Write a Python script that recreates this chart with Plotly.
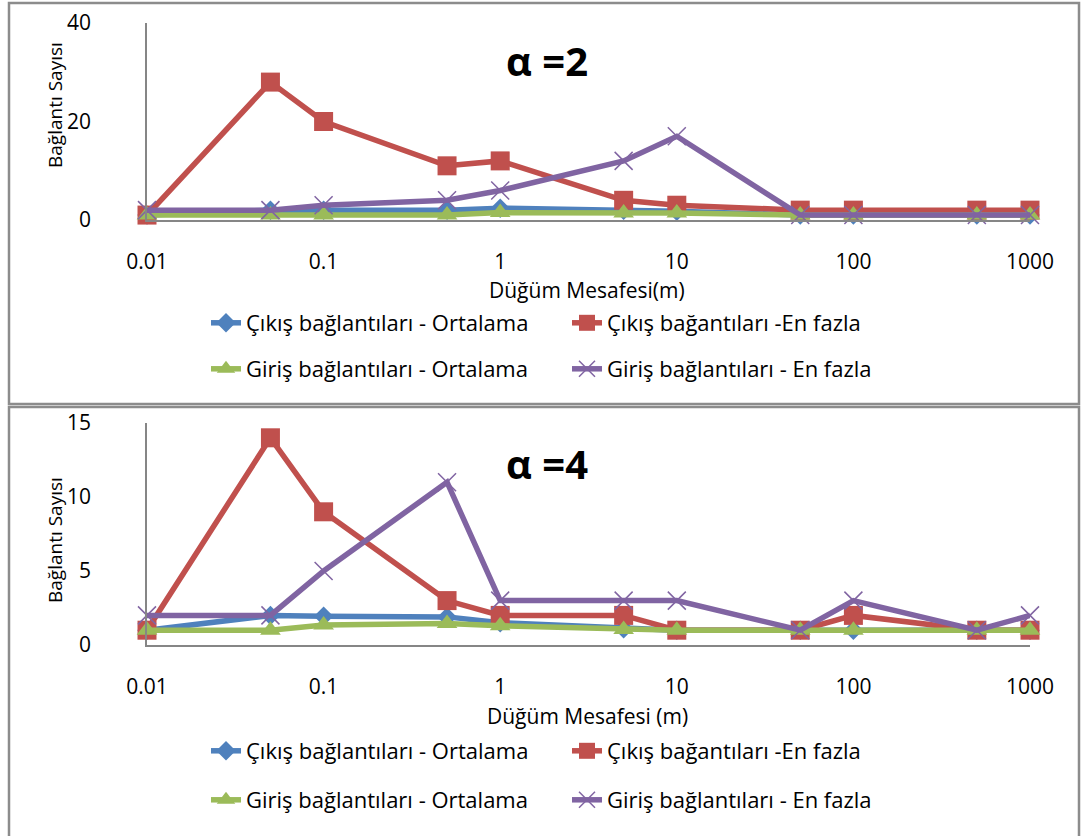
import plotly.graph_objects as go

# ---- data ----
distances = [0.01, 0.05, 0.1, 0.5, 1, 5, 10, 50, 100, 500, 1000]
tick_vals = [0.01, 0.1, 1, 10, 100, 1000]
tick_text = ["0.01", "0.1", "1", "10", "100", "1000"]

series_names = [
    "Çıkış bağlantıları - Ortalama",
    "Çıkış bağantıları -En fazla",
    "Giriş bağlantıları - Ortalama",
    "Giriş bağlantıları - En fazla",
]

# alpha = 2
cikis_ort_a2 = [1, 2, 2, 2, 2.4, 2, 1.8, 1, 1, 1, 1]
cikis_max_a2 = [1, 28, 20, 11, 12, 4, 3, 2, 2, 2, 2]
giris_ort_a2 = [1, 1, 1, 1, 1.5, 1.4, 1.4, 1, 1, 1, 1]
giris_max_a2 = [2, 2, 3, 4, 6, 12, 17, 1, 1, 1, 1]

# alpha = 4
cikis_ort_a4 = [1, 2, 1.95, 1.9, 1.5, 1.1, 1, 1, 1, 1, 1]
cikis_max_a4 = [1, 14, 9, 3, 2, 2, 1, 1, 2, 1, 1]
giris_ort_a4 = [1, 1, 1.35, 1.45, 1.3, 1.05, 1, 1, 1, 1, 1]
giris_max_a4 = [2, 2, 5, 11, 3, 3, 3, 1, 3, 1, 2]

y_ticks_a2 = [0, 20, 40]
y_ticks_a4 = [0, 5, 10, 15]

x_titles = ["Düğüm Mesafesi(m)", "Düğüm Mesafesi (m)"]
y_title = "Bağlantı Sayısı"
panel_titles = ["<b>α =2</b>", "<b>α =4</b>"]

# ---- style ----
W, H = 1086, 836
FONT = "Open Sans"
colors = ["#4F81BD", "#C0504D", "#9BBB59", "#8064A2"]
symbols = ["diamond", "square", "triangle-up", "x-thin"]
sizes = [15, 19, 18, 18]
AXIS_GRAY = "#868686"


def px_x(x):
    return x / W


def px_y(y):
    return 1 - y / H


fig = go.Figure()

panels = [
    ([cikis_ort_a2, cikis_max_a2, giris_ort_a2, giris_max_a2], "x", "y", ["legend", "legend", "legend2", "legend2"]),
    ([cikis_ort_a4, cikis_max_a4, giris_ort_a4, giris_max_a4], "x2", "y2", ["legend3", "legend3", "legend4", "legend4"]),
]

for data, xa, ya, legs in panels:
    for i, vals in enumerate(data):
        sym = symbols[i]
        if sym == "x-thin":
            marker = dict(symbol=sym, size=sizes[i], color=colors[i], line=dict(color=colors[i], width=1.5))
        else:
            marker = dict(symbol=sym, size=sizes[i], color=colors[i])
        fig.add_trace(go.Scatter(
            x=distances, y=vals, name=series_names[i], mode="lines+markers",
            line=dict(color=colors[i], width=5.5), marker=marker,
            xaxis=xa, yaxis=ya, legend=legs[i], cliponaxis=False,
        ))

xdom = [px_x(147), px_x(1030)]
common_x = dict(
    type="log", range=[-2, 3], tickvals=tick_vals, ticktext=tick_text,
    showline=True, linecolor=AXIS_GRAY, linewidth=1.5, showgrid=False, zeroline=False,
    ticks="outside", ticklen=22, tickcolor="rgba(0,0,0,0)", automargin=False,
    tickfont=dict(family=FONT, size=21, color="#000"),
)
common_y = dict(
    showline=True, linecolor=AXIS_GRAY, linewidth=1.5, showgrid=False, zeroline=False,
    ticks="outside", ticklen=50, tickcolor="rgba(0,0,0,0)", automargin=False,
    tickfont=dict(family=FONT, size=21, color="#000"),
)

fig.update_layout(
    width=W, height=H, margin=dict(l=0, r=0, t=0, b=0, autoexpand=False),
    paper_bgcolor="white", plot_bgcolor="white",
    font=dict(family=FONT, size=18, color="#000"),
    xaxis=dict(domain=xdom, anchor="y", **common_x),
    yaxis=dict(domain=[px_y(220), px_y(23)], anchor="x", range=[0, 40], tickvals=y_ticks_a2, **common_y),
    xaxis2=dict(domain=xdom, anchor="y2", **common_x),
    yaxis2=dict(domain=[px_y(645), px_y(423)], anchor="x2", range=[0, 15], tickvals=y_ticks_a4, **common_y),
)

leg_common = dict(orientation="h", xanchor="left", yanchor="middle", bgcolor="rgba(0,0,0,0)",
                  font=dict(family=FONT, size=22, color="#000"), entrywidth=316, entrywidthmode="pixels")
fig.update_layout(
    legend=dict(x=px_x(206), y=px_y(323), **leg_common),
    legend2=dict(x=px_x(206), y=px_y(369), **leg_common),
    legend3=dict(x=px_x(206), y=px_y(751), **leg_common),
    legend4=dict(x=px_x(206), y=px_y(800), **leg_common),
)

# axis titles (placed as text annotations)
for xt, yc in zip(x_titles, [290, 716]):
    fig.add_annotation(text=xt, x=px_x(587), y=px_y(yc), xref="paper", yref="paper",
                       xanchor="center", yanchor="middle", showarrow=False,
                       font=dict(family=FONT, size=21, color="#000"))
for yc in [105, 540]:
    fig.add_annotation(text=y_title, x=px_x(55), y=px_y(yc), xref="paper", yref="paper",
                       xanchor="center", yanchor="middle", textangle=-90, showarrow=False,
                       font=dict(family=FONT, size=19, color="#000"))

# panel titles
for t, yc in zip(panel_titles, [60, 463]):
    fig.add_annotation(text=t, x=px_x(547), y=px_y(yc), xref="paper", yref="paper",
                       xanchor="center", yanchor="middle",
                       showarrow=False, font=dict(family=FONT, size=40, color="#000"))

# chart borders
fig.add_shape(type="rect", xref="paper", yref="paper", x0=px_x(9), x1=px_x(1079), y0=px_y(404), y1=px_y(3),
              line=dict(color="#8C8C8C", width=2.5), fillcolor="rgba(0,0,0,0)", layer="below")
fig.add_shape(type="rect", xref="paper", yref="paper", x0=px_x(9), x1=px_x(1079), y0=px_y(845), y1=px_y(407),
              line=dict(color="#8C8C8C", width=2.5), fillcolor="rgba(0,0,0,0)", layer="below")

fig.write_html("out.html", config={"displayModeBar": False},
               post_script="document.body.style.margin='0';")
